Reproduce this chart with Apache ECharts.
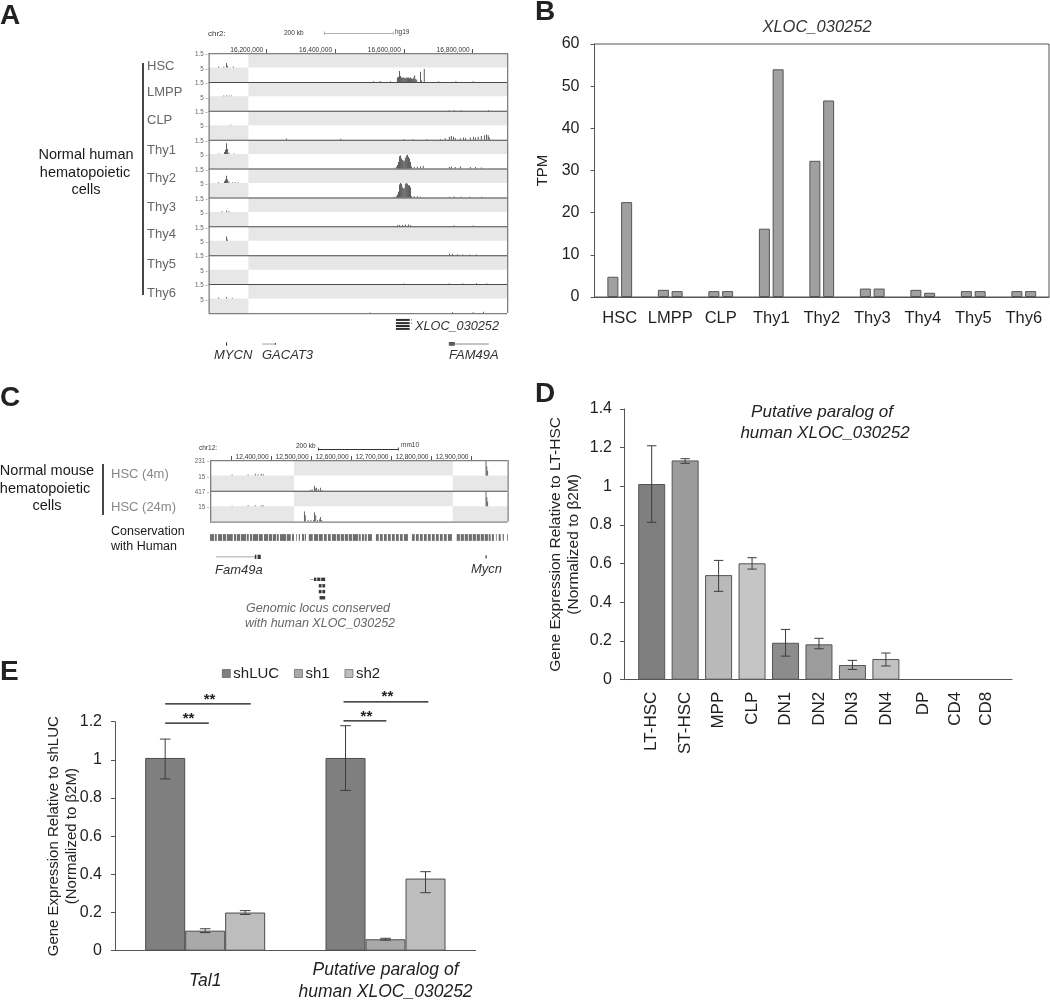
<!DOCTYPE html>
<html><head><meta charset="utf-8">
<style>html,body{margin:0;padding:0;background:#fff}#c{width:1050px;height:1001px}</style>
<script src="https://cdn.jsdelivr.net/npm/echarts@6/dist/echarts.min.js"></script>
</head><body><div id="c"></div>
<script>
// ---------- Panel A: human tracks (positions in kb on chr2, heights as a fraction of a half track)
const aTracks = ['HSC','LMPP','CLP','Thy1','Thy2','Thy3','Thy4','Thy5','Thy6'];
const aTicks = [16200,16400,16600,16800];
const aRange = [16032,16900];
const aShadeEdge = 16148;
const hscPeaks = [[16060,.06],[16075,.06],[16083,.3],[16086,.1],[16103,.06],
  [16510,.05],[16530,.06],[16560,.05],[16580,.3],[16583,.35],[16586,.75],[16589,.4],[16592,.3],[16595,.28],[16597,.3],[16600,.28],[16603,.25],[16606,.3],[16609,.28],[16612,.3],[16615,.25],[16618,.3],[16621,.25],[16624,.2],[16627,.3],[16630,.45],[16633,.2],[16636,.15],[16647,.7],[16650,.1],[16658,.9],[16700,.04],[16750,.05],[16800,.05]];
const lmppPeaks = [[16075,.05],[16083,.06],[16090,.05],[16097,.05],[16730,.05],[16745,.06],[16765,.05],[16845,.05]];
const clpPeaks = [[16095,.03],[16257,.08],[16415,.06],[16600,.05],[16625,.05],[16665,.05],[16705,.05],[16719,.1],[16731,.2],[16737,.25],[16743,.2],[16748,.12],[16763,.1],[16772,.15],[16778,.12],[16792,.15],[16801,.2],[16807,.15],[16815,.2],[16824,.25],[16833,.3],[16839,.35],[16844,.3],[16847,.15]];
const thy1Peaks = [[16060,.05],[16077,.15],[16080,.3],[16083,.75],[16086,.35],[16090,.1],[16105,.05],
  [16570,.06],[16577,.12],[16580,.25],[16583,.45],[16586,.85],[16589,.9],[16592,.7],[16595,.6],[16597,.5],[16600,.55],[16603,.75],[16606,.9],[16609,.95],[16612,.8],[16615,.7],[16618,.45],[16621,.15],[16629,.1],[16638,.15],[16647,.15],[16655,.2],
  [16731,.1],[16737,.15],[16748,.1],[16763,.15],[16792,.1],[16807,.1],[16824,.08]];
const thy2Peaks = [[16060,.05],[16077,.12],[16080,.25],[16083,.5],[16086,.25],[16090,.1],[16100,.06],[16108,.05],[16116,.05],
  [16570,.05],[16577,.08],[16580,.2],[16583,.4],[16586,.9],[16589,1],[16592,.95],[16595,.7],[16597,.6],[16600,.65],[16603,.95],[16606,1],[16609,.95],[16612,.85],[16615,.85],[16618,.7],[16621,.1],[16629,.08],[16638,.08],[16647,.05],
  [16731,.05],[16745,.06],[16765,.05],[16790,.04],[16825,.04]];
const thy3Peaks = [[16070,.04],[16083,.08],[16090,.05],[16580,.07],[16586,.1],[16595,.1],[16603,.12],[16612,.12],[16618,.08],[16745,.05],[16800,.05]];
const thy4Peaks = [[16083,.3],[16086,.08],[16731,.1],[16740,.1],[16755,.06],[16770,.05],[16790,.05],[16810,.05]];
const thy5Peaks = [[16600,.04],[16731,.05],[16770,.05],[16810,.06],[16840,.05]];
const thy6Peaks = [[16060,.08],[16083,.1],[16100,.06],[16500,.04],[16740,.05],[16800,.05],[16830,.08]];
const aPeaks = [hscPeaks,lmppPeaks,clpPeaks,thy1Peaks,thy2Peaks,thy3Peaks,thy4Peaks,thy5Peaks,thy6Peaks];
const aYLabels = ['1.5 -','5 -'];
const aScaleBar = [16368,16568];
// gene pieces: [start kb, end kb, row, thickness in rows]
const aGeneBlocks = [[16577,16617,9.24,.07],[16577,16617,9.35,.07],[16577,16617,9.45,.07],[16577,16617,9.55,.07],[16621,16624,9.24,.03],[16621,16624,9.35,.03],
  [16083,16086,10.07,.12],[16731,16748,10.07,.12],[16225,16228,10.07,.06]];
const aGeneLines = [[16188,16225,10.07,.02],[16731,16847,10.07,.02]];

// ---------- Panel B: TPM
const bCategories = ['HSC','LMPP','CLP','Thy1','Thy2','Thy3','Thy4','Thy5','Thy6'];
const bRep1 = [4.8,1.7,1.4,16.2,32.3,2,1.7,1.4,1.4];
const bRep2 = [22.5,1.4,1.4,54,46.6,2,1,1.4,1.4];

// ---------- Panel C: mouse tracks (kb on chr12)
const cRange = [12246,12990];
const cTicks = [12300,12400,12500,12600,12700,12800,12900];
const cShadeEdges = [12456,12853];
const cYLabels = ['231 -','15 -','417 -','15 -'];
const cTrack1Peaks = [[12300,.05],[12340,.05],[12358,.1],[12365,.05],[12373,.1],[12378,.08],[12495,.05],[12500,.1],[12506,.33],[12509,.15],[12511,.2],[12516,.1],[12521,.2],[12525,.05]];
const cTrack2Peaks = [[12300,.03],[12340,.05],[12358,.06],[12373,.06],[12378,.05],[12481,.65],[12483,.4],[12490,.1],[12497,.1],[12504,.1],[12506,.6],[12509,.4],[12514,.1],[12519,.15],[12521,.3],[12524,.1]];
const cMycnPeaks = [[12935,.95],[12937,.6],[12939,.3]];
const cScaleBar = [12516,12716];
const conservation = [[12246,12256],[12258,12263],[12266,12276],[12278,12286],[12288,12303],[12306,12311],[12313,12321],[12323,12336],[12338,12343],[12346,12351],[12353,12366],[12368,12378],[12381,12391],[12393,12401],[12403,12411],[12413,12418],[12421,12436],[12438,12448],[12451,12456],[12461,12463],[12468,12471],[12476,12481],[12483,12486],[12493,12503],[12506,12516],[12518,12528],[12531,12538],[12541,12548],[12551,12561],[12563,12571],[12573,12581],[12583,12591],[12593,12601],[12603,12616],[12618,12623],[12626,12631],[12633,12638],[12641,12651],[12661,12668],[12671,12678],[12681,12688],[12691,12698],[12701,12708],[12711,12718],[12721,12728],[12731,12741],[12751,12758],[12761,12768],[12771,12778],[12781,12788],[12791,12798],[12801,12808],[12811,12818],[12821,12828],[12831,12838],[12841,12851],[12863,12871],[12873,12881],[12883,12891],[12893,12901],[12903,12911],[12913,12921],[12923,12931],[12933,12941],[12943,12948],[12951,12956],[12961,12963],[12968,12973],[12978,12981],[12989,12990]];
const cGeneBlocks = [[12358,12362,3.15,.14],[12365,12373,3.15,.14],[12935,12938,3.15,.1],
  [12506,12512,3.88,.11],[12514,12522,3.88,.11],[12524,12534,3.88,.11],[12518,12525,4.09,.11],[12527,12534,4.09,.11],[12518,12525,4.28,.11],[12527,12534,4.28,.11],[12520,12534,4.48,.11]];
const cGeneLines = [[12261,12358,3.15,.02],[12496,12506,3.88,.02]];

// ---------- Panel D
const dCategories = ['LT-HSC','ST-HSC','MPP','CLP','DN1','DN2','DN3','DN4','DP','CD4','CD8'];
const dPositions = [0,1,2,3,4,5,6,7,8.11,9.07,10.01];
const dValues = [1.012,1.134,.541,.602,.191,.183,.076,.107];
const dErrLow = [.814,1.119,.457,.572,.122,.16,.053,.071];
const dErrHigh = [1.21,1.143,.617,.631,.26,.214,.1,.138];
const dColors = ['#7f7f7f','#9b9b9b','#b9b9b9','#c5c5c5','#8c8c8c','#9c9c9c','#a8a8a8','#c2c2c2'];

// ---------- Panel E
const eCategories = ['Tal1','Putative paralog of\nhuman XLOC_030252'];
const eShLUC = [1.01,1.01];
const eSh1 = [.105,.06];
const eSh2 = [.2,.378];
const eErrors = [[0,0,.9,1.109],[0,1,.095,.115],[0,2,.19,.21],[1,0,.84,1.179],[1,1,.055,.065],[1,2,.304,.414]];
// significance: category, from (bar widths from the group centre), to, level
const eBrackets = [[0,-1,.09,1.193],[0,-1,1.14,1.293],[1,-1.05,.02,1.204],[1,-1.05,1.07,1.304]];

// ---------- helpers
const FONT = '"Liberation Sans",Arial,sans-serif';
function rectSeries(idx, rects, color, minW, minH, z) {
  return {type:'custom', xAxisIndex:idx, yAxisIndex:idx, z:z||2, silent:true, clip:false,
    data:rects, encode:{x:0,y:2},
    renderItem:(p,api)=>{
      const r = rects[p.dataIndex];
      const a = api.coord([r[0],r[2]]), b = api.coord([r[1],r[3]]);
      const x=Math.min(a[0],b[0]), y=Math.min(a[1],b[1]);
      return {type:'rect', silent:true, shape:{x, y, width:Math.max(Math.abs(b[0]-a[0]),minW||0), height:Math.max(Math.abs(b[1]-a[1]),minH||0)}, style:{fill:color}};
    }};
}
function t(x,y,text,size,o){o=o||{};return {type:'text',x,y,silent:true,rotation:o.rot||0,style:{text,fontSize:size,fontFamily:FONT,fontStyle:o.italic?'italic':'normal',fontWeight:o.bold?'bold':'normal',fill:o.color||'#1a1a1a',align:o.align||'left',verticalAlign:'middle'}};}
function vline(x,y0,y1,w){return {type:'rect',silent:true,shape:{x:x-w/2,y:y0,width:w,height:y1-y0},style:{fill:'#333'}};}
function addCommas(kb){return String(kb*1000).replace(/\B(?=(\d{3})+$)/g,',');}
function framePieces(x0,x1,y0,y1){return [[x0,x1,y0,y0],[x0,x1,y1,y1],[x0,x0,y0,y1],[x1,x1,y0,y1]];}

// ---------- derived rectangles for the browser panels
const aShade=[], aPeakRects=[], aSeps=[];
aTracks.forEach((_,i)=>{
  aShade.push([aShadeEdge,aRange[1],i,i+.5],[aRange[0],aShadeEdge,i+.5,i+1]);
  if(i>0) aSeps.push([aRange[0],aRange[1],i,i]);
  aPeaks[i].forEach(pk=>{
    const base = pk[0]<aShadeEdge ? i+.5 : i+1;
    aPeakRects.push([pk[0],pk[0],base-pk[1]*.5,base]);
  });
});
const cShade=[], cPeakRects=[];
[0,1].forEach(i=>{
  cShade.push([cShadeEdges[0],cShadeEdges[1],i,i+.5],[cRange[0],cShadeEdges[0],i+.5,i+1],[cShadeEdges[1],cRange[1],i+.5,i+1]);
  cMycnPeaks.forEach(pk=>cPeakRects.push([pk[0],pk[0],i+.5-pk[1]*.5,i+.5]));
});
cTrack1Peaks.forEach(pk=>cPeakRects.push([pk[0],pk[0],(pk[0]<12450?.5:1)-pk[1]*.5,(pk[0]<12450?.5:1)]));
cTrack2Peaks.forEach(pk=>cPeakRects.push([pk[0],pk[0],(pk[0]<12450?1.5:2)-pk[1]*.5,(pk[0]<12450?1.5:2)]));
const toGene = g=>[g[0],g[1],g[2]-g[3]/2,g[2]+g[3]/2];

const chart = echarts.init(document.getElementById('c'),null,{renderer:'canvas'});
const axisText = {color:'#1f1f1f',fontSize:16,fontFamily:FONT};
const yText = {...axisText,padding:[3,0,0,0]};
const axLine = {show:true,lineStyle:{color:'#555',width:1}};
const axTick = {show:true,length:4,lineStyle:{color:'#555',width:1}};
const aYVals = aTracks.flatMap((_,i)=>[i+.05,i+.55]);
const cYVals = [.05,.55,1.05,1.55];

chart.setOption({
  animation:false, backgroundColor:'#fff', textStyle:{fontFamily:FONT},
  grid:[
    {left:208.5,top:53,width:298.5,height:260,outerBoundsMode:'none'},
    {left:594.5,top:44,width:454.5,height:253,show:true,borderColor:'#555',borderWidth:1,backgroundColor:'transparent',outerBoundsMode:'none'},
    {left:210,top:460,width:297.5,height:61.5,outerBoundsMode:'none'},
    {left:624,top:409,width:388,height:270.7,outerBoundsMode:'none'},
    {left:115,top:721.7,width:360.7,height:229,outerBoundsMode:'none'}
  ],
  xAxis:[
    {gridIndex:0,type:'value',position:'top',min:aRange[0],max:aRange[1],splitLine:{show:false},axisLine:{show:false},
      axisTick:{show:true,length:4,customValues:aTicks,lineStyle:{color:'#555'}},
      axisLabel:{customValues:aTicks,fontSize:6.6,color:'#333',align:'right',verticalAlign:'middle',margin:3,padding:[0,3,0,0],formatter:v=>addCommas(v)}},
    {gridIndex:1,type:'category',data:bCategories,axisLine:axLine,axisTick:{show:false},axisLabel:{...axisText,fontSize:16.5,margin:13,interval:0}},
    {gridIndex:2,type:'value',position:'top',min:cRange[0],max:cRange[1],splitLine:{show:false},axisLine:{show:false},
      axisTick:{show:true,length:4,customValues:cTicks,lineStyle:{color:'#555'}},
      axisLabel:{customValues:cTicks.slice(1),fontSize:6.6,color:'#333',align:'right',verticalAlign:'middle',margin:3,padding:[0,3,0,0],formatter:v=>addCommas(v)}},
    {gridIndex:3,type:'value',min:-.828,max:10.77,splitLine:{show:false},axisLine:{...axLine,onZero:false},axisTick:{show:false},
      axisLabel:{...axisText,fontSize:17,customValues:dPositions,rotate:90,margin:12,formatter:v=>dCategories[dPositions.indexOf(v)]}},
    {gridIndex:4,type:'category',data:eCategories,axisLine:axLine,axisTick:{show:false},
      axisLabel:{...axisText,fontSize:17.5,fontStyle:'italic',interval:0,margin:30,lineHeight:22,verticalAlign:'middle'}}
  ],
  yAxis:[
    {gridIndex:0,type:'value',inverse:true,min:0,max:9,splitLine:{show:false},axisLine:{show:false},axisTick:{show:false},
      axisLabel:{customValues:aYVals,fontSize:6.3,color:'#666',margin:1,formatter:(v,i)=>aYLabels[aYVals.indexOf(v)%2]}},
    {gridIndex:1,type:'value',min:0,max:60,interval:10,splitLine:{show:false},axisLine:axLine,axisTick:axTick,
      axisLabel:{...yText,margin:15},name:'TPM',nameLocation:'middle',nameGap:44,nameMoveOverlap:false,nameRotate:90,nameTextStyle:{fontSize:15,color:'#222',fontFamily:FONT}},
    {gridIndex:2,type:'value',inverse:true,min:0,max:2,splitLine:{show:false},axisLine:{show:false},axisTick:{show:false},
      axisLabel:{customValues:cYVals,fontSize:6.3,color:'#666',margin:1,formatter:v=>cYLabels[cYVals.indexOf(v)]}},
    {gridIndex:3,type:'value',min:0,max:1.4,interval:.2,splitLine:{show:false},axisLine:{...axLine,onZero:false},axisTick:axTick,
      axisLabel:{...yText,margin:12},name:'Gene Expression Relative to LT-HSC\n(Normalized to \u03b22M)',nameLocation:'middle',nameGap:41,nameMoveOverlap:false,nameRotate:90,
      nameTextStyle:{fontSize:15.5,lineHeight:18,color:'#222',fontFamily:FONT}},
    {gridIndex:4,type:'value',min:0,max:1.2,interval:.2,splitLine:{show:false},axisLine:axLine,axisTick:axTick,
      axisLabel:{...yText,margin:13},name:'Gene Expression Relative to shLUC\n(Normalized to \u03b22M)',nameLocation:'middle',nameGap:34,nameMoveOverlap:false,nameRotate:90,
      nameTextStyle:{fontSize:15,lineHeight:18,color:'#222',fontFamily:FONT}}
  ],
  legend:{data:['shLUC','sh1','sh2'],left:217,top:661,icon:'rect',itemWidth:8,itemHeight:8,itemGap:15,
    textStyle:{fontSize:15,color:'#222',fontFamily:FONT,padding:[0,0,0,-2]},itemStyle:{borderWidth:.6}},
  series:[
    // Panel A
    rectSeries(0,aShade,'#e7e7e7',0,0,1),
    rectSeries(0,aPeakRects,'#5c5c5c',1,0,2),
    rectSeries(0,aSeps,'#4a4a4a',0,1,3),
    rectSeries(0,framePieces(aRange[0],aRange[1],0,9),'#808080',1.3,1.3,4),
    rectSeries(0,aGeneBlocks.map(toGene),'#2f2f2f',1,.8,3),
    rectSeries(0,aGeneLines.map(toGene),'#8a8a8a',1,.8,3),
    rectSeries(0,[[aScaleBar[0],aScaleBar[1],-.69,-.69],[aScaleBar[0],aScaleBar[0],-.74,-.64],[aScaleBar[1],aScaleBar[1],-.74,-.64]],'#999',.8,.8,3),
    // Panel B
    {name:'rep1',type:'bar',xAxisIndex:1,yAxisIndex:1,data:bRep1,barWidth:11,barGap:'25%',itemStyle:{color:'#a0a0a0',borderColor:'#555',borderWidth:1}},
    {name:'rep2',type:'bar',xAxisIndex:1,yAxisIndex:1,data:bRep2,barWidth:11,barGap:'25%',itemStyle:{color:'#a0a0a0',borderColor:'#555',borderWidth:1}},
    // Panel C
    rectSeries(2,cShade,'#e7e7e7',0,0,1),
    rectSeries(2,cPeakRects,'#666',1,0,2),
    rectSeries(2,[[cRange[0],cRange[1],1,1]],'#4a4a4a',0,1,3),
    rectSeries(2,framePieces(cRange[0],cRange[1],0,2),'#808080',1.3,1.3,4),
    rectSeries(2,conservation.map(c=>[c[0],c[1],2.41,2.63]),'#6e6e6e',.8,0,3),
    rectSeries(2,cGeneBlocks.map(toGene),'#3a3a3a',1,.7,3),
    rectSeries(2,cGeneLines.map(toGene),'#8a8a8a',1,.7,3),
    rectSeries(2,[[cScaleBar[0],cScaleBar[1],-.36,-.36],[cScaleBar[0],cScaleBar[0],-.41,-.31],[cScaleBar[1],cScaleBar[1],-.41,-.31]],'#333',.9,1,3),
    // Panel D
    {type:'bar',xAxisIndex:3,yAxisIndex:3,barWidth:27,data:dValues.map((v,i)=>[dPositions[i],v]),
      itemStyle:{borderColor:'#555',borderWidth:1,color:p=>dColors[p.dataIndex]}},
    {type:'custom',xAxisIndex:3,yAxisIndex:3,z:5,silent:true,data:dValues.map((v,i)=>[dPositions[i],dErrLow[i],dErrHigh[i]]),encode:{x:0,y:1},
      renderItem:(p,api)=>{
        const lo=api.coord([api.value(0),api.value(1)]), hi=api.coord([api.value(0),api.value(2)]), c=4.7, x=lo[0];
        const s={stroke:'#3d3d3d',lineWidth:1,fill:null};
        return {type:'group',children:[
          {type:'line',shape:{x1:x,y1:lo[1],x2:x,y2:hi[1]},style:s},
          {type:'line',shape:{x1:x-c,y1:lo[1],x2:x+c,y2:lo[1]},style:s},
          {type:'line',shape:{x1:x-c,y1:hi[1],x2:x+c,y2:hi[1]},style:s}]};
      }},
    // Panel E
    {name:'shLUC',type:'bar',xAxisIndex:4,yAxisIndex:4,data:eShLUC,barWidth:40,barGap:0,itemStyle:{color:'#7f7f7f',borderColor:'#4d4d4d',borderWidth:1}},
    {name:'sh1',type:'bar',xAxisIndex:4,yAxisIndex:4,data:eSh1,barWidth:40,barGap:0,itemStyle:{color:'#a9a9a9',borderColor:'#4d4d4d',borderWidth:1}},
    {name:'sh2',type:'bar',xAxisIndex:4,yAxisIndex:4,data:eSh2,barWidth:40,barGap:0,itemStyle:{color:'#bdbdbd',borderColor:'#4d4d4d',borderWidth:1}},
    {type:'custom',xAxisIndex:4,yAxisIndex:4,z:5,silent:true,clip:false,data:eErrors,encode:{x:0,y:2},
      renderItem:(p,api)=>{
        const e=eErrors[p.dataIndex], lo=api.coord([e[0],e[2]]), hi=api.coord([e[0],e[3]]), x=lo[0]+(e[1]-1)*40, c=5.3;
        const s={stroke:'#3d3d3d',lineWidth:1,fill:null};
        return {type:'group',children:[
          {type:'line',shape:{x1:x,y1:lo[1],x2:x,y2:hi[1]},style:s},
          {type:'line',shape:{x1:x-c,y1:lo[1],x2:x+c,y2:lo[1]},style:s},
          {type:'line',shape:{x1:x-c,y1:hi[1],x2:x+c,y2:hi[1]},style:s}]};
      }},
    {type:'custom',xAxisIndex:4,yAxisIndex:4,z:5,silent:true,clip:false,data:eBrackets,encode:{x:0,y:3},
      renderItem:(p,api)=>{
        const b=eBrackets[p.dataIndex], c=api.coord([b[0],b[3]]), x1=c[0]+b[1]*40, x2=c[0]+b[2]*40;
        return {type:'group',children:[
          {type:'line',shape:{x1,y1:c[1],x2,y2:c[1]},style:{stroke:'#111',lineWidth:1.3}},
          {type:'text',x:(x1+x2)/2+1.5,y:c[1]-4.5,style:{text:'**',fontSize:15,fontWeight:'bold',fontFamily:FONT,fill:'#222',align:'center',verticalAlign:'middle'}}]};
      }}
  ],
  graphic:{elements:[
    t(0,16,'A',28,{bold:true,color:'#222'}), t(535,12,'B',28,{bold:true,color:'#222'}),
    t(0,398,'C',28,{bold:true,color:'#222'}), t(535,394,'D',28,{bold:true,color:'#222'}), t(0,672,'E',28,{bold:true,color:'#222'}),
    // A annotations
    t(208,34,'chr2:',8,{color:'#333'}), t(284,33,'200 kb',6.5,{color:'#333'}), t(395,32,'hg19',6.5,{color:'#333'}),
    vline(143,63,295,1.8),
    t(86,154.5,'Normal human',14.5,{align:'center'}), t(85,172.5,'hematopoietic',14.5,{align:'center'}), t(86,190,'cells',14.5,{align:'center'}),
    ...aTracks.map((n,i)=>t(147,[66,92,120,150,178,207,234,264,293][i],n,13,{color:'#666'})),
    t(415,326,'XLOC_030252',12.7,{italic:true,color:'#333'}),
    t(214,355,'MYCN',13,{italic:true,color:'#333'}), t(262,355,'GACAT3',13,{italic:true,color:'#333'}), t(449,355,'FAM49A',13,{italic:true,color:'#333'}),
    // B, D titles
    t(817,27,'XLOC_030252',16.5,{italic:true,align:'center',color:'#333'}),
    t(822,412,'Putative paralog of',17,{italic:true,align:'center',color:'#222'}),
    t(825,433,'human XLOC_030252',17,{italic:true,align:'center',color:'#222'}),
    // C annotations
    t(199,448,'chr12:',6.5,{color:'#333'}), t(296,446,'200 kb',6.5,{color:'#333'}), t(401,445,'mm10',6.5,{color:'#333'}),
    vline(103,464,515,1.8),
    t(47,470.5,'Normal mouse',14.5,{align:'center'}), t(45,488.5,'hematopoietic',14.5,{align:'center'}), t(47,506,'cells',14.5,{align:'center'}),
    t(111,474,'HSC (4m)',13,{color:'#888'}), t(111,507.5,'HSC (24m)',13,{color:'#888'}),
    t(111,531.5,'Conservation',12.5), t(111,546.5,'with Human',12.5),
    t(215,570,'Fam49a',13,{italic:true,color:'#333'}), t(471,569,'Mycn',13,{italic:true,color:'#333'}),
    t(318,608.5,'Genomic locus conserved',12.5,{italic:true,align:'center',color:'#666'}),
    t(320,623.5,'with human XLOC_030252',12.5,{italic:true,align:'center',color:'#666'})
  ]}
});
</script></body></html>
